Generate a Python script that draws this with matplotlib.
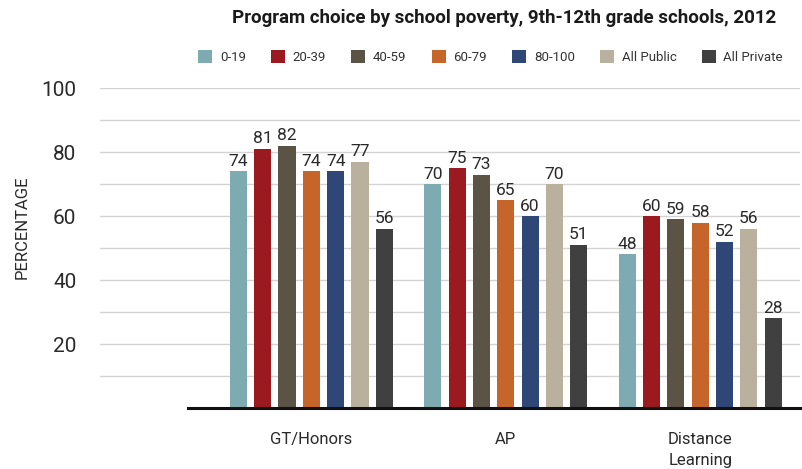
import numpy as np
import matplotlib.pyplot as plt
from matplotlib import font_manager

# Narrow sans if available, else fall back
names = {f.name for f in font_manager.fontManager.ttflist}
FONT = "Liberation Sans Narrow" if "Liberation Sans Narrow" in names else "Roboto"
plt.rcParams["font.family"] = [FONT, "DejaVu Sans"]

programs = ["GT/Honors", "AP", "Distance\nLearning"]
groups = ["0-19", "20-39", "40-59", "60-79", "80-100", "All Public", "All Private"]
values = {
    "0-19": [74, 70, 48],
    "20-39": [81, 75, 60],
    "40-59": [82, 73, 59],
    "60-79": [74, 65, 58],
    "80-100": [74, 60, 52],
    "All Public": [77, 70, 56],
    "All Private": [56, 51, 28],
}
colors = ["#7eabb1", "#9a1a1f", "#5b5446", "#c5652a", "#2f4777", "#b9b09e", "#404040"]

fig = plt.figure(figsize=(8.03, 4.69), dpi=100)
ax = fig.add_axes([0.1245, 0.130, 0.8715, 0.682])

x = np.arange(len(programs))
step = 0.125
width = 0.088
for i, (g, c) in enumerate(zip(groups, colors)):
    pos = x + (i - 3) * step
    bars = ax.bar(pos, values[g], width=width, color=c, label=g, zorder=3)
    for b, v in zip(bars, values[g]):
        ax.text(b.get_x() + b.get_width() / 2, v + 0.8, str(v), ha="center", va="bottom",
                fontsize=12.5, color="#2a2a2a", zorder=4)

ax.set_xlim(-1.087, 2.512)
ax.set_ylim(0, 100)
ax.set_yticks([20, 40, 60, 80, 100])
ax.set_yticks(np.arange(10, 101, 10), minor=True)
ax.grid(axis="y", which="both", color="#d4d4d4", linewidth=1.0, zorder=0)
ax.tick_params(axis="y", which="both", length=0, pad=17, labelsize=15, labelcolor="#2a2a2a")
ax.tick_params(axis="x", length=0, pad=17, labelsize=12, labelcolor="#2a2a2a")
ax.set_xticks(x)
ax.set_xticklabels(programs, linespacing=1.5, va="top")
for s in ax.spines.values():
    s.set_visible(False)
ax.axhline(0, xmin=0.126, xmax=1, color="#111111", linewidth=2.2, zorder=5, clip_on=False)

ax.set_ylabel("PERCENTAGE", fontsize=12, color="#2a2a2a")
ax.yaxis.set_label_coords(-0.1, 0.566)

fig.text(0.628, 0.962, "Program choice by school poverty, 9th-12th grade schools, 2012",
         ha="center", va="center", fontsize=13.5, fontweight="bold", color="#1a1a1a")

fig.legend(loc="center", bbox_to_anchor=(0.611, 0.878), ncol=7, frameon=False,
           fontsize=9.5, handlelength=1.05, handleheight=1.05, handletextpad=0.6,
           columnspacing=1.9, labelcolor="#333333")

fig.savefig("out.png", dpi=100)
